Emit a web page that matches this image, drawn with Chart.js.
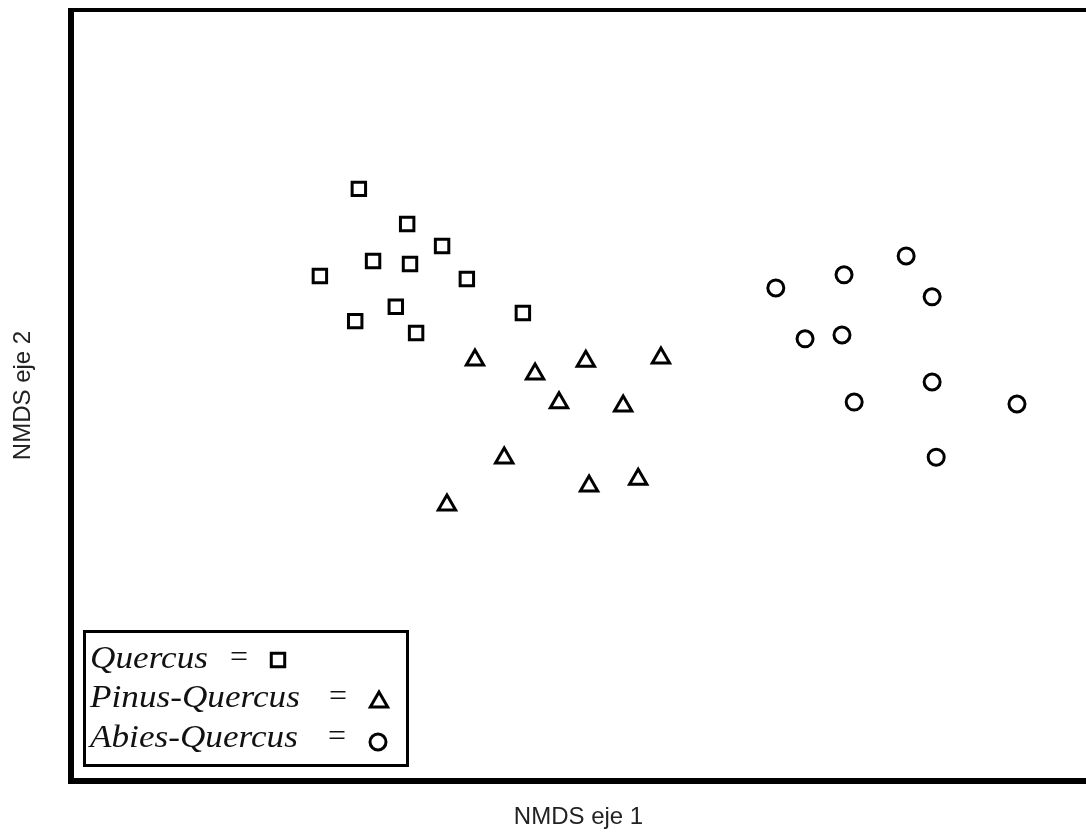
<!DOCTYPE html>
<html>
<head>
<meta charset="utf-8">
<script src="https://cdn.jsdelivr.net/npm/chart.js@4.4.1/dist/chart.umd.min.js"></script>
<style>
  html, body { margin: 0; padding: 0; background: #fff; }
</style>
</head>
<body>
<canvas id="chart" width="1086" height="839"></canvas>
<script>
// NMDS scores (no ticks in the original, units are arbitrary)
const quercusX = [-0.291, -0.172, -0.086, -0.256, -0.165, -0.387, -0.025, -0.200, 0.113, -0.300, -0.150];
const quercusY = [0.536, 0.445, 0.388, 0.349, 0.341, 0.310, 0.302, 0.230, 0.214, 0.193, 0.162];

const pinusX = [-0.005, 0.143, 0.268, 0.453, 0.202, 0.360, 0.067, 0.397, 0.276, -0.074];
const pinusY = [0.092, 0.056, 0.089, 0.097, -0.019, -0.027, -0.162, -0.217, -0.235, -0.284];

const abiesX = [0.736, 0.904, 1.057, 1.121, 0.808, 0.899, 1.121, 0.929, 1.330, 1.131];
const abiesY = [0.279, 0.313, 0.362, 0.256, 0.147, 0.157, 0.035, -0.017, -0.022, -0.160];

const groupNames = ['Quercus', 'Pinus-Quercus', 'Abies-Quercus'];
const groupStyles = ['rect', 'triangle', 'circle'];
const groupRadius = [9.5, 10, 8];

const xTitle = 'NMDS eje 1';
const yTitle = 'NMDS eje 2';

function toPoints(xs, ys) {
    return xs.map((x, i) => ({ x: x, y: ys[i] }));
}

// thick black frame, open on the right (cut off in the original)
const framePlugin = {
    id: 'frame',
    beforeDatasetsDraw(chart) {
        const ctx = chart.ctx;
        const a = chart.chartArea;
        ctx.save();
        ctx.fillStyle = '#000';
        ctx.fillRect(a.left - 3, a.top - 2, 6, a.bottom - a.top + 5);
        ctx.fillRect(a.left - 3, a.top - 2, chart.width, 4);
        ctx.fillRect(a.left - 3, a.bottom - 3, chart.width, 6);
        ctx.restore();
    }
};

// boxed legend: "Name = marker"
const legendPlugin = {
    id: 'boxLegend',
    afterDraw(chart) {
        const ctx = chart.ctx;
        ctx.save();
        ctx.strokeStyle = '#000';
        ctx.lineWidth = 3;
        ctx.strokeRect(84.5, 631.5, 323, 134);

        const rows = [
            { base: 668, eq: 239, mx: 278, my: 660 },
            { base: 707, eq: 338, mx: 379, my: 702 },
            { base: 747, eq: 337, mx: 378, my: 742 }
        ];
        rows.forEach((r, i) => {
            ctx.fillStyle = '#111';
            ctx.textBaseline = 'alphabetic';
            ctx.textAlign = 'left';
            ctx.font = 'italic 32px "Liberation Serif", "Times New Roman", serif';
            ctx.save();
            ctx.translate(90, r.base);
            ctx.scale(1.1, 1);
            ctx.fillText(groupNames[i], 0, 0);
            ctx.restore();

            ctx.font = '32px "Liberation Serif", "Times New Roman", serif';
            ctx.textAlign = 'center';
            ctx.fillText('=', r.eq, r.base - 1);

            ctx.lineWidth = 3;
            ctx.strokeStyle = '#000';
            ctx.fillStyle = '#fff';
            Chart.helpers.drawPoint(ctx, {
                pointStyle: groupStyles[i],
                radius: groupRadius[i],
                rotation: 0,
                borderWidth: 3
            }, r.mx, r.my);
        });
        ctx.restore();
    }
};

const ctx = document.getElementById('chart').getContext('2d');
const chart = new Chart(ctx, {
    type: 'scatter',
    data: {
        datasets: [
            {
                label: groupNames[0],
                data: toPoints(quercusX, quercusY),
                pointStyle: groupStyles[0],
                pointRadius: groupRadius[0],
                borderWidth: 3,
                borderColor: '#000',
                backgroundColor: '#fff'
            },
            {
                label: groupNames[1],
                data: toPoints(pinusX, pinusY),
                pointStyle: groupStyles[1],
                pointRadius: groupRadius[1],
                borderWidth: 3,
                borderColor: '#000',
                backgroundColor: '#fff'
            },
            {
                label: groupNames[2],
                data: toPoints(abiesX, abiesY),
                pointStyle: groupStyles[2],
                pointRadius: groupRadius[2],
                borderWidth: 3,
                borderColor: '#000',
                backgroundColor: '#fff'
            }
        ]
    },
    options: {
        responsive: false,
        animation: false,
        layout: {
            autoPadding: false,
            padding: { left: 0, top: 10, right: 0, bottom: 0 }
        },
        plugins: {
            legend: { display: false },
            tooltip: { enabled: false }
        },
        scales: {
            x: {
                type: 'linear',
                min: -1.0,
                max: 1.5,
                grid: { display: false, drawTicks: false },
                border: { display: false },
                ticks: { display: false },
                title: {
                    display: true,
                    text: xTitle,
                    color: '#222',
                    font: { family: '"Liberation Sans", Arial, sans-serif', size: 24 },
                    padding: { top: 22.2, bottom: 7 }
                }
            },
            y: {
                type: 'linear',
                min: -1.0,
                max: 1.0,
                grid: { display: false, drawTicks: false },
                border: { display: false },
                ticks: { display: false },
                title: {
                    display: true,
                    text: yTitle,
                    color: '#222',
                    font: { family: '"Liberation Sans", Arial, sans-serif', size: 24 },
                    padding: { top: 9, bottom: 33.2 }
                }
            }
        }
    },
    plugins: [framePlugin, legendPlugin]
});
</script>
</body>
</html>
